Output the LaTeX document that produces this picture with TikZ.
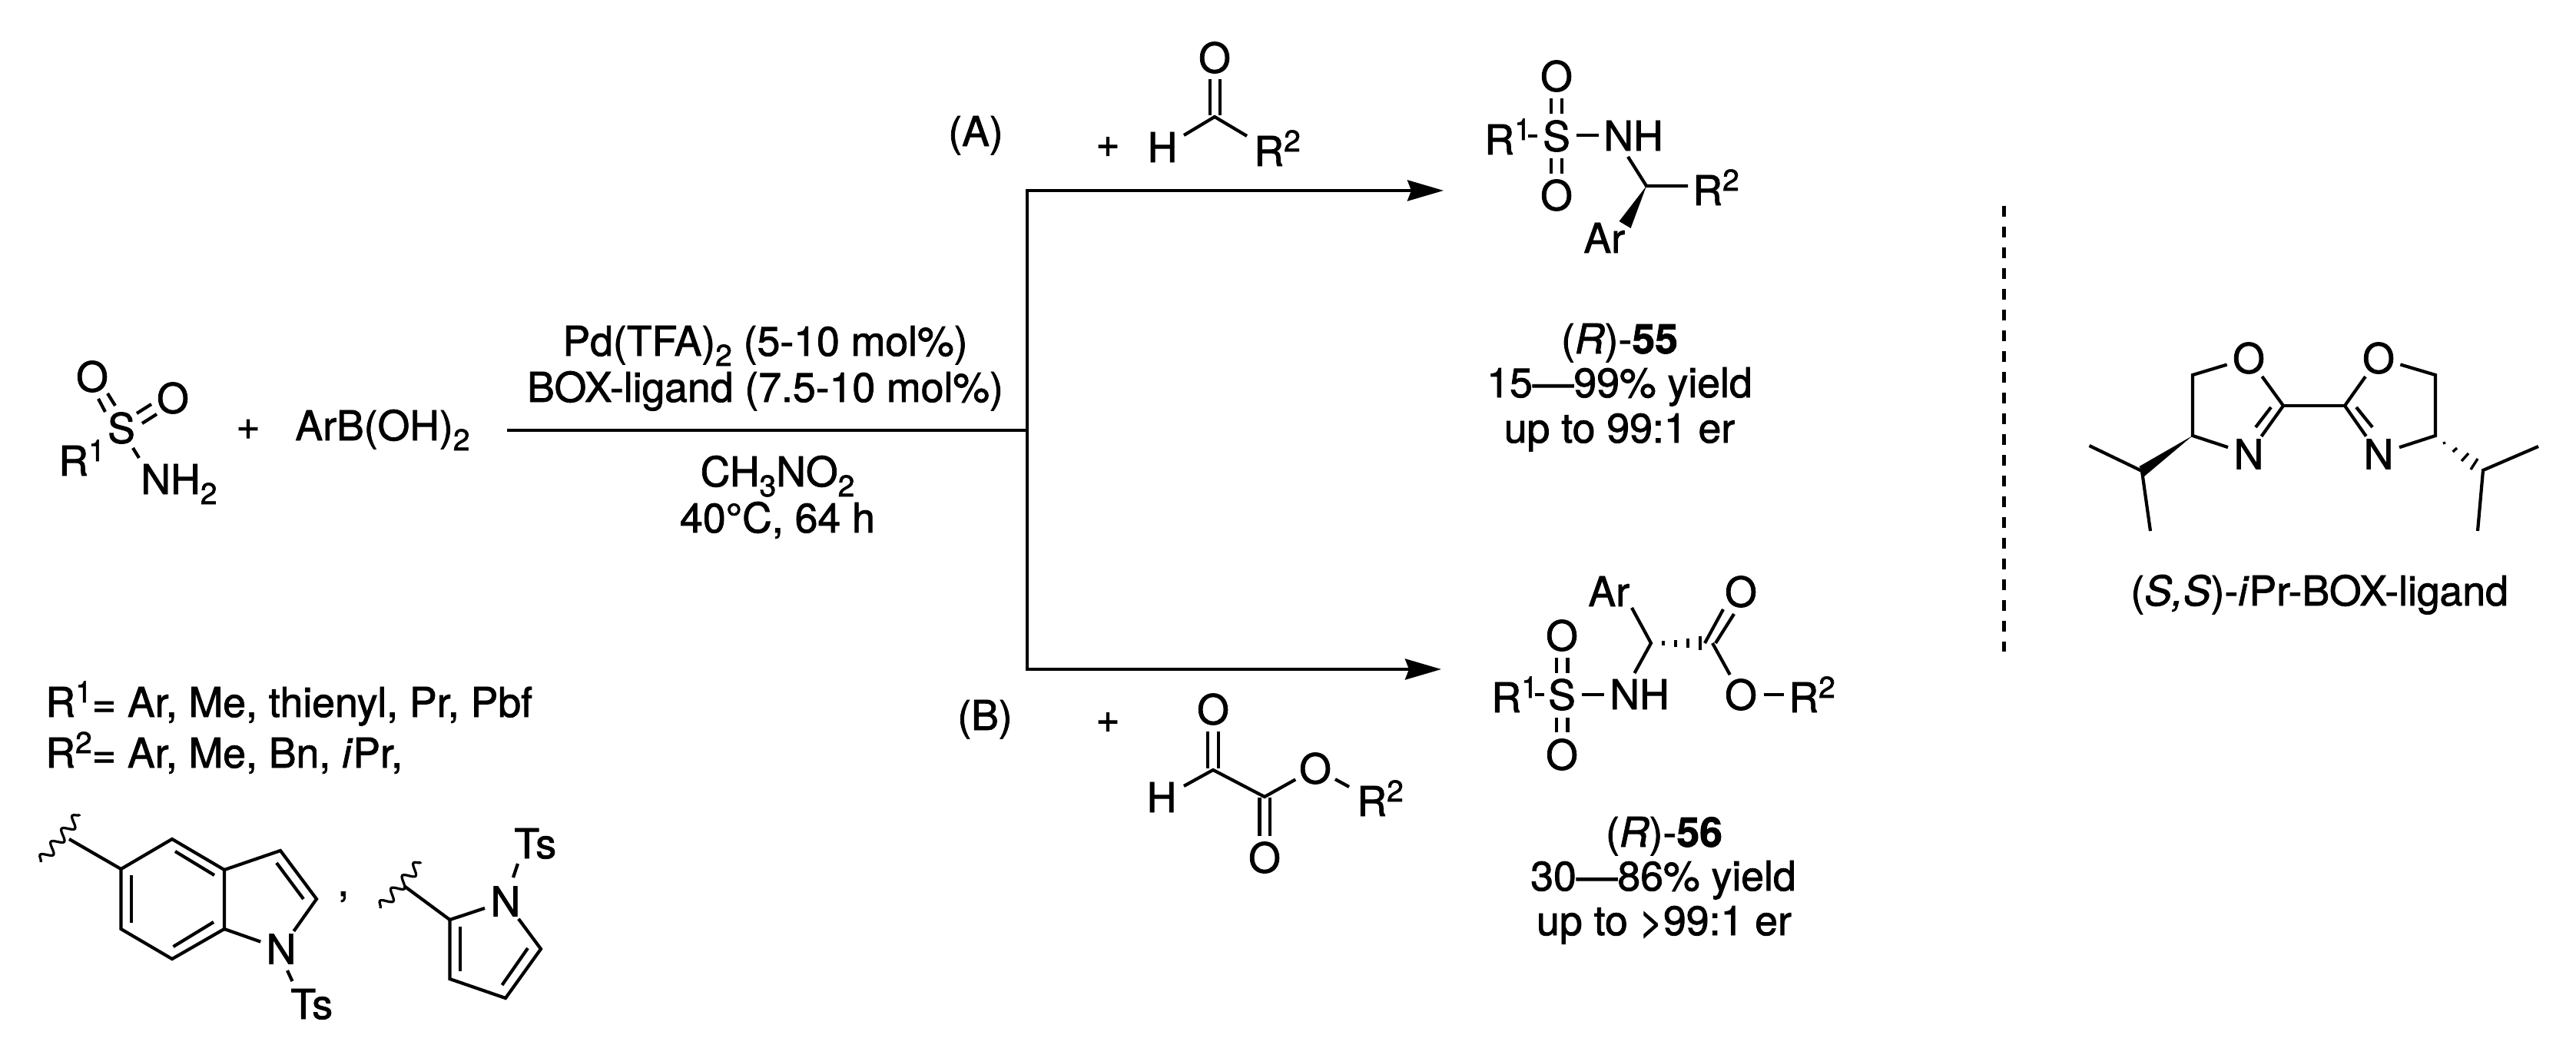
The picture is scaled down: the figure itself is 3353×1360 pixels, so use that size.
\documentclass[tikz,border=0pt]{standalone}
\usepackage{fontspec}
\setmainfont{TeX Gyre Heros}[FakeBold=1.5]
\usetikzlibrary{arrows.meta,decorations.pathmorphing}
\newcommand\supr[1]{\raisebox{9.5pt}{\fontsize{19.5pt}{20pt}\selectfont #1}}
\newcommand\subr[1]{\raisebox{-6.5pt}{\fontsize{19.5pt}{20pt}\selectfont #1}}
\newcommand\bnd[3]{\coordinate (#1a) at (#2); \coordinate (#1b) at (#3); \draw[bond] (#1a) -- (#1b);}
\tikzset{
  every node/.style={font=\fontsize{26.8pt}{30pt}\selectfont, inner sep=0pt, text=black},
  lab/.style={anchor=base west},
  labc/.style={anchor=base},
  labr/.style={anchor=base east},
  atom/.style={circle, minimum size=28pt, inner sep=0pt},
  bond/.style={line width=2.1pt, black},
  hashb/.style={line width=1.7pt, black},
  wavy/.style={line width=1.6pt, decorate, decoration={snake, segment length=11pt, amplitude=3.4pt}},
  rxn/.style={line width=2.1pt, black},
  head/.style={{Stealth[length=23.5pt,width=13.5pt,inset=2.5pt]}-{Stealth[length=23.5pt,width=13.5pt,inset=2.5pt]}},
}
\begin{document}
\begin{tikzpicture}[x=0.5pt,y=-0.5pt]
\useasboundingbox (0,0) rectangle (3353,1360);
% ---------- starting sulfonamide
\node[atom] (s0) at (158,557) {S};
\node[atom] (o0a) at (120,490) {O};
\node[atom] (o0b) at (225,518) {O};
\node[lab] (r0) at (76,619) {R\supr{1}};
\node[lab] (nh0) at (183,643) {NH\subr{2}};
\bnd{d1}{128,519}{137,536}
\bnd{d2}{140,512}{150,528}
\bnd{d3}{178,538}{197,526}
\bnd{d4}{185,551}{204,539}
\bnd{d5}{173,583}{181,596}
\node[labc] (plus0) at (323,571.5) {+};
\node[lab] (boron) at (384,573) {ArB(OH)\subr{2}};
% ---------- conditions
\node[labc] (c1) at (996,463) {Pd(TFA)\subr{2} (5-10 mol\%)};
\node[labc] (c2) at (996,523) {BOX-ligand (7.5-10 mol\%)};
\node[labc] (c3) at (1012,633) {CH\subr{3}NO\subr{2}};
\node[labc] (c4) at (1012,693) {40°C, 64 h};
% ---------- arrows
\coordinate (start) at (660,560);
\coordinate (junc) at (1337,560);
\coordinate (cornerA) at (1337,248);
\coordinate (cornerB) at (1337,871);
\coordinate (tipA) at (1879,248);
\coordinate (tipB) at (1876,871);
\draw[rxn] (start) -- (junc);
\draw[rxn,head] (tipA) -- (cornerA) -- (cornerB) -- (tipB);
% ---------- route A reagent
\node[labc] (la) at (1270,190) {(A)};
\node[labc] (plusa) at (1442,204) {+};
\node[labc] (ha) at (1513,211) {H};
\node[atom] (oa) at (1581,75) {O};
\node[lab] (r2a) at (1632,216) {R\supr{2}};
\coordinate (ca) at (1581,152);
\bnd{ea}{1575,103}{1575,150}
\bnd{eb}{1588,103}{1588,150}
\coordinate (ec1) at (1541,176);
\coordinate (ec2) at (1623,177);
\draw[bond] (ec1) -- (ca) -- (ec2);
% ---------- product A
\node[lab] (r1p) at (1932,201) {R\supr{1}};
\node[atom] (sp) at (2026,177) {S};
\node[atom] (op1) at (2026,99) {O};
\node[atom] (op2) at (2026,254) {O};
\node[lab] (nhp) at (2087,196) {NH};
\node[lab] (r2p) at (2203,267) {R\supr{2}};
\node[lab] (arp) at (2061,329) {Ar};
\bnd{fa}{1989,177}{2001,177}
\bnd{fb}{2019,128}{2019,148}
\bnd{fc}{2033,128}{2033,148}
\bnd{fd}{2019,206}{2019,226}
\bnd{fe}{2033,206}{2033,226}
\bnd{ff}{2052,176}{2081,176}
\coordinate (cp) at (2143,242);
\coordinate (cpn) at (2119,204);
\coordinate (cpr) at (2197,242);
\coordinate (wa1) at (2107.5,288);
\coordinate (wa2) at (2122.6,297);
\draw[bond] (cpn) -- (cp) -- (cpr);
\fill[black] (cp) -- (wa1) -- (wa2) -- cycle;
\node[labc] (n55) at (2108,460) {(\textit{R})-\textbf{55}};
\node[labc] (y55) at (2108,517) {15—99\% yield};
\node[labc] (e55) at (2108,576) {up to 99:1 er};
% ---------- route B reagent
\node[labc] (lb) at (1282,950) {(B)};
\node[labc] (plusb) at (1442,953) {+};
\node[labc] (hb) at (1512,1057) {H};
\node[atom] (ob1) at (1579,923) {O};
\node[atom] (ob2) at (1712,1000) {O};
\node[atom] (ob3) at (1646,1116) {O};
\node[lab] (r2b) at (1766,1062) {R\supr{2}};
\coordinate (cb1) at (1579,1002);
\coordinate (cb2) at (1646,1037);
\coordinate (cbh) at (1541,1023);
\coordinate (cbr) at (1756,1024);
\draw[bond] (cbh) -- (cb1) -- (cb2) -- (ob2);
\draw[bond] (ob2) -- (cbr);
\bnd{ga}{1572,952}{1572,1000}
\bnd{gb}{1586,952}{1586,1000}
\bnd{gc}{1639.5,1038}{1639.5,1088}
\bnd{gd}{1653,1038}{1653,1088}
% ---------- product B
\node[lab] (r1q) at (1941,927) {R\supr{1}};
\node[atom] (sq) at (2033,904) {S};
\node[atom] (oq1) at (2033,827) {O};
\node[atom] (oq2) at (2033,982) {O};
\node[lab] (nhq) at (2095,923) {NH};
\node[lab] (arq) at (2067,789) {Ar};
\node[atom] (oq3) at (2266,770) {O};
\node[atom] (oq4) at (2266,904) {O};
\node[lab] (r2q) at (2328,927) {R\supr{2}};
\bnd{ha}{1997.5,904}{2009.5,904}
\bnd{hb}{2026,856}{2026,876}
\bnd{hc}{2040.5,856}{2040.5,876}
\bnd{hd}{2026,934}{2026,953}
\bnd{he}{2040.5,934}{2040.5,953}
\bnd{hf}{2059,904}{2088,904}
\bnd{hg}{2219,837}{2243,793}
\bnd{hh}{2233,837}{2257,799}
\coordinate (cq) at (2149,837);
\coordinate (cqa) at (2124,791);
\coordinate (cqn) at (2127.5,876);
\coordinate (cqc) at (2229,837);
\coordinate (cqr) at (2322,904);
\draw[bond] (cqa) -- (cq) -- (cqn);
\draw[bond] (cqc) -- (oq4);
\draw[bond] (oq4) -- (cqr);
\draw[hashb] (2165,834) -- (2165,840) (2181,832.5) -- (2181,841.5) (2197,831) -- (2197,843) (2213,828) -- (2213,846);
\node[labc] (n56) at (2166,1102) {(\textit{R})-\textbf{56}};
\node[labc] (y56) at (2165,1159) {30—86\% yield};
\node[labc] (e56) at (2166,1217) {up to >99:1 er};
% ---------- divider
\coordinate (dv1) at (2608.5,268);
\coordinate (dv2) at (2608.5,848);
\draw[line width=2.5pt,dash pattern=on 7pt off 6.5pt] (dv1) -- (dv2);
% ---------- ligand
\node[atom] (lo1) at (2927,466) {O};
\node[atom] (lo2) at (3096,466) {O};
\node[atom] (ln1) at (2927,591) {N};
\node[atom] (ln2) at (3096,591) {N};
\coordinate (l1) at (2854,488);
\coordinate (l2) at (2854,567);
\coordinate (l3) at (2972,528);
\coordinate (r1) at (3170,488);
\coordinate (r2) at (3170,567);
\coordinate (r3) at (3052,528);
\draw[bond] (lo1) -- (l1) -- (l2) -- (ln1);
\draw[bond] (lo1) -- (l3) -- (ln1);
\draw[bond] (lo2) -- (r1) -- (r2) -- (ln2);
\draw[bond] (lo2) -- (r3) -- (ln2);
\draw[bond] (l3) -- (r3);
\bnd{la}{2956,530}{2936,556}
\bnd{lb}{3067,530}{3088,556}
\coordinate (ip1) at (2788,613);
\coordinate (ip1a) at (2719.5,580);
\coordinate (ip1b) at (2799,691);
\coordinate (wl1) at (2784.5,607);
\coordinate (wl2) at (2791,620);
\draw[bond] (ip1a) -- (ip1) -- (ip1b);
\fill[black] (l2) -- (wl1) -- (wl2) -- cycle;
\coordinate (ip2) at (3232,612);
\coordinate (ip2a) at (3304,581);
\coordinate (ip2b) at (3225,691);
\draw[bond] (ip2a) -- (ip2) -- (ip2b);
\draw[hashb] (3181,575) -- (3182,578) (3192.6,588) -- (3198,583) (3204,600) -- (3213,590) (3216,611) -- (3225,597);
\node[lab] (ligname) at (2773,788) {(\textit{S,S})-\textit{i}Pr-BOX-ligand};
% ---------- R groups
\node[lab] (rl1) at (59,933) {R\supr{1}= Ar, Me, thienyl, Pr, Pbf};
\node[lab] (rl2) at (59,999) {R\supr{2}= Ar, Me, Bn, \textit{i}Pr,};
% indole
\coordinate (i1) at (157.5,1131);
\coordinate (i2) at (224,1092);
\coordinate (i3) at (292,1132);
\coordinate (i4) at (292,1209);
\coordinate (i5) at (224,1248);
\coordinate (i6) at (157.5,1209);
\coordinate (i7) at (365,1107);
\coordinate (i8) at (412,1170);
\node[atom] (in) at (366,1235) {N};
\coordinate (iw) at (90,1092);
\draw[bond,line join=miter] (i1) -- (i2) -- (i3) -- (i4) -- (i5) -- (i6) -- cycle;
\draw[bond] (i3) -- (i7) -- (i8) -- (in) -- (i4);
\draw[bond] (i1) -- (iw);
\bnd{ja}{171,1139}{171,1201}
\bnd{jb}{228,1108}{279,1139}
\bnd{jc}{225.5,1232}{278,1200}
\bnd{jd}{360,1123}{395,1170}
\bnd{je}{374,1263}{380.5,1277}
\node[lab] (its) at (378,1326) {Ts};
\coordinate (iwa) at (53,1122);
\coordinate (iwb) at (104,1060);
\draw[wavy] (iwa) -- (iwb);
\node[lab] (comma) at (439,1166) {,};
% pyrrole
\coordinate (p2) at (585.5,1197);
\coordinate (p3) at (585.5,1274);
\coordinate (p4) at (658,1299);
\coordinate (p5) at (704,1235);
\node[atom] (pn) at (658,1173) {N};
\coordinate (pw) at (526,1153);
\draw[bond] (pn) -- (p2) -- (p3) -- (p4) -- (p5) -- (pn);
\draw[bond] (p2) -- (pw);
\bnd{ka}{599,1206}{599,1264}
\bnd{kb}{687,1234}{653.5,1282}
\bnd{kc}{668,1142}{674,1124}
\node[lab] (pts) at (669,1117) {Ts};
\coordinate (pwa) at (495,1182);
\coordinate (pwb) at (548,1122);
\draw[wavy] (pwa) -- (pwb);
\end{tikzpicture}
\end{document}
